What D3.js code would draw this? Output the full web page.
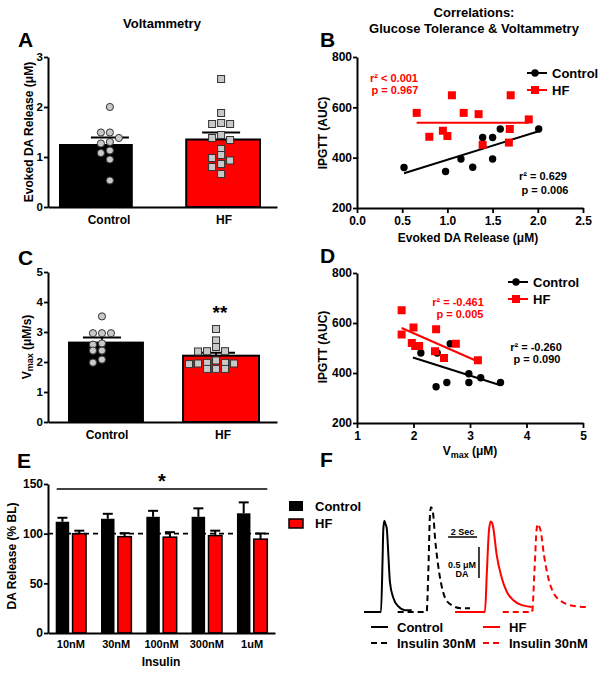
<!DOCTYPE html>
<html><head><meta charset="utf-8">
<script src="https://cdn.jsdelivr.net/npm/d3@7/dist/d3.min.js"></script>
<style>
body{margin:0;background:#fff;}
text{font-family:"Liberation Sans",Arial,Helvetica,sans-serif;font-weight:bold;fill:#000;}
</style></head><body>
<svg id="chart" width="604" height="674"></svg>
<script>
// ---------------- DATA ----------------
const groups = ["Control", "HF"];
// Panel A: evoked DA release (uM)
const releaseControl = [2.0, 1.49, 1.49, 1.38, 1.30, 1.27, 1.13, 1.08, 0.95, 0.53];
const releaseHF = [2.56, 1.88, 1.68, 1.66, 1.66, 1.44, 1.38, 1.34, 1.16, 1.04, 0.98, 0.93, 0.86, 0.80, 0.66];
const releaseMean = [1.26, 1.35];
const releaseSem = [0.13, 0.14];
const releaseTicks = [0, 1, 2, 3];
// Panel C: Vmax (uM/s)
const vmaxControl = [3.52, 2.96, 2.96, 2.96, 2.62, 2.58, 2.38, 2.38, 2.08, 1.98];
const vmaxHF = [3.10, 2.72, 2.50, 2.36, 2.36, 2.35, 2.05, 1.97, 1.95, 1.95, 1.93, 1.97, 1.77, 1.77, 1.77];
const vmaxMean = [2.68, 2.21];
const vmaxSem = [0.14, 0.10];
const vmaxTicks = [0, 1, 2, 3, 4, 5];
// Panel B: release vs IPGTT
const bControlX = [0.52, 0.98, 1.15, 1.28, 1.39, 1.50, 1.50, 1.585, 2.01];
const bControlY = [361, 345, 395, 362, 480, 480, 395, 514, 514];
const bHFX = [0.66, 0.80, 0.95, 1.00, 1.05, 1.18, 1.345, 1.39, 1.68, 1.69, 1.70, 1.90];
const bHFY = [578, 483, 507, 486, 648, 578, 573, 451, 460, 514, 648, 552];
const bFitControl = [[0.52, 338], [2.01, 505]];
const bFitHF = [[0.66, 539], [1.90, 539]];
const bXTicks = [0, 0.5, 1.0, 1.5, 2.0, 2.5];
// Panel D: Vmax vs IPGTT
const dControlX = [2.13, 2.42, 2.65, 2.40, 2.59, 2.98, 2.98, 3.19, 3.54];
const dControlY = [480, 480, 517, 345, 362, 362, 397, 381, 362];
const dHFX = [1.79, 1.79, 2.00, 1.97, 2.03, 2.10, 2.40, 2.38, 2.54, 2.75, 3.14];
const dHFY = [651, 554, 582, 520, 508, 508, 575, 487, 460, 517, 451];
const dFitControl = [[1.99, 462], [3.54, 351]];
const dFitHF = [[1.79, 580], [3.14, 446]];
const dXTicks = [1, 2, 3, 4, 5];
const ipgttTicks = [200, 400, 600, 800];
// Panel E: insulin dose response (% BL)
const doses = ["10nM", "30nM", "100nM", "300nM", "1uM"];
const doseControl = [112, 115, 117, 117, 120.5];
const doseControlSem = [4, 5, 6, 8.5, 11];
const doseHF = [100, 97, 96.5, 98, 94.5];
const doseHFSem = [3, 3.5, 5, 5, 5.7];
const doseTicks = [0, 50, 100, 150];
const baselinePct = 100;
const sigLevel = 145;
// Panel F: example traces [time s, DA uM]
const traceControl = [[0,0],[1.17,0],[1.28,0.84],[1.33,1.32],[1.40,1.47],[1.48,1.42],[1.57,1.35],[1.68,0.92],[1.79,0.48],[2.02,0.23],[2.37,0.09],[2.83,0.03],[3.29,0.03]];
const traceControlIns = [[2.32,0],[4.32,0],[4.43,0.6],[4.55,1.56],[4.62,1.69],[4.71,1.65],[4.78,1.56],[4.90,1.19],[5.08,0.81],[5.31,0.47],[5.59,0.23],[6.05,0.11],[6.74,0.06],[7.31,0.06]];
const traceHF = [[6.28,0],[8.34,0],[8.48,0.68],[8.62,1.32],[8.74,1.46],[8.83,1.44],[8.92,1.35],[9.15,0.92],[9.50,0.55],[9.84,0.33],[10.30,0.19],[10.88,0.11],[11.57,0.08]];
const traceHFIns = [[9.57,0],[11.59,0],[11.76,0.68],[11.90,1.32],[11.98,1.42],[12.07,1.39],[12.19,1.30],[12.41,0.92],[12.71,0.55],[13.17,0.27],[13.86,0.14],[14.67,0.09],[15.47,0.08]];

// ---------------- DRAWING ----------------
const RED = "#ff0000", GRAY = "#c8c8c8";
const svg = d3.select("#chart");

function styleAxis(g, fs) {
  g.selectAll("path.domain").attr("stroke", "#000").attr("stroke-width", 2);
  g.selectAll(".tick line").attr("stroke", "#000").attr("stroke-width", 1.8);
  g.selectAll(".tick text").attr("font-size", fs || 11).attr("font-weight", "bold")
    .attr("font-family", '"Liberation Sans",Arial,sans-serif').attr("fill", "#000");
}
function txt(x, y, s, o) {
  o = o || {};
  const t = svg.append("text").attr("x", x).attr("y", y).text(s)
    .attr("font-size", o.fs || 12).attr("text-anchor", o.anchor || "middle");
  if (o.fill) t.style("fill", o.fill);
  return t;
}
function letter(x, y, s) { txt(x, y, s, {fs: 21, anchor: "start"}); }

function swarm(vals, y, cx, step, minD) {
  const pts = vals.map(v => ({v: v, y: y(v)})).sort((a, b) => b.v - a.v);
  const placed = [];
  pts.forEach(p => {
    for (let k = 0; k < 30; k++) {
      const off = k === 0 ? 0 : (k % 2 ? -Math.ceil(k / 2) : Math.ceil(k / 2)) * step;
      const x = cx + off;
      if (!placed.some(q => Math.abs(q.x - x) < minD && Math.abs(q.y - p.y) < minD)) {
        p.x = x; placed.push(p); break;
      }
    }
  });
  return placed;
}

function barPanel(o) {
  const y = d3.scaleLinear().domain([0, o.ticks[o.ticks.length - 1]]).range([o.y0, o.y1]);
  const xb = d3.scaleBand().domain(groups).range(o.barRange).paddingInner(o.padInner);
  const ctr = (g, i) => xb(g) + xb.bandwidth() / 2 + o.shift[i];
  groups.forEach((g, i) => {
    svg.append("rect").attr("x", xb(g)).attr("width", xb.bandwidth())
      .attr("y", y(o.mean[i])).attr("height", y(0) - y(o.mean[i]))
      .attr("fill", i ? RED : "#000").attr("stroke", "#000").attr("stroke-width", i ? 2 : 0);
    const c = ctr(g, i), top = y(o.mean[i] + o.sem[i]);
    svg.append("line").attr("x1", c).attr("x2", c).attr("y1", y(o.mean[i])).attr("y2", top)
      .attr("stroke", "#000").attr("stroke-width", 2);
    svg.append("line").attr("x1", c - 19).attr("x2", c + 19).attr("y1", top).attr("y2", top)
      .attr("stroke", "#000").attr("stroke-width", 2);
    const pts = swarm(o.pts[i], y, c, 9, 6);
    if (i === 0) {
      svg.selectAll(null).data(pts).enter().append("circle")
        .attr("cx", d => d.x).attr("cy", d => d.y).attr("r", 3.6)
        .attr("fill", GRAY).attr("stroke", "#333").attr("stroke-width", 1);
    } else {
      svg.selectAll(null).data(pts).enter().append("rect")
        .attr("x", d => d.x - 3.5).attr("y", d => d.y - 3.5).attr("width", 7).attr("height", 7)
        .attr("fill", GRAY).attr("stroke", "#333").attr("stroke-width", 1);
    }
    txt(o.labelX[i], o.y0 + 17, g, {fs: 12});
  });
  svg.append("g").attr("transform", `translate(${o.x0},0)`)
    .call(d3.axisLeft(y).tickValues(o.ticks).tickFormat(d3.format("d")).tickSize(4).tickSizeOuter(0).tickPadding(1))
    .call(g => styleAxis(g, 11.5));
  svg.append("g").attr("transform", `translate(0,${o.y0})`)
    .call(d3.axisBottom(d3.scaleLinear().range([o.x0, o.x1])).tickValues([]).tickSizeOuter(0))
    .call(g => styleAxis(g, 11));
  return y;
}

function corrPanel(o) {
  const x = d3.scaleLinear().domain([o.xTicks[0], o.xTicks[o.xTicks.length - 1]]).range([o.x0, o.x1]);
  const y = d3.scaleLinear().domain([200, 800]).range([o.y0, o.y1]);
  const line = d3.line().x(d => x(d[0])).y(d => y(d[1]));
  svg.append("path").attr("d", line(o.fitC)).attr("stroke", "#000").attr("stroke-width", 2).attr("fill", "none");
  svg.append("path").attr("d", line(o.fitH)).attr("stroke", RED).attr("stroke-width", 2).attr("fill", "none");
  svg.selectAll(null).data(o.cx.map((v, i) => [v, o.cy[i]])).enter().append("circle")
    .attr("cx", d => x(d[0])).attr("cy", d => y(d[1])).attr("r", 3.7).attr("fill", "#000");
  svg.selectAll(null).data(o.hx.map((v, i) => [v, o.hy[i]])).enter().append("rect")
    .attr("x", d => x(d[0]) - 4).attr("y", d => y(d[1]) - 4).attr("width", 8).attr("height", 8).attr("fill", RED);
  svg.append("g").attr("transform", `translate(${o.x0},0)`)
    .call(d3.axisLeft(y).tickValues(ipgttTicks).tickSize(4).tickSizeOuter(0).tickPadding(1))
    .call(g => styleAxis(g, 12));
  svg.append("g").attr("transform", `translate(0,${o.y0})`)
    .call(d3.axisBottom(x).tickValues(o.xTicks).tickFormat(o.fmt).tickSize(5).tickSizeOuter(0).tickPadding(3))
    .call(g => styleAxis(g, 12));
  // legend
  const L = o.legend;
  svg.append("line").attr("x1", L[0]).attr("x2", L[0] + 20).attr("y1", L[1]).attr("y2", L[1]).attr("stroke", "#000").attr("stroke-width", 2);
  svg.append("circle").attr("cx", L[0] + 8).attr("cy", L[1]).attr("r", 3.7).attr("fill", "#000");
  txt(L[0] + 25, L[1] + 5, "Control", {fs: 13, anchor: "start"});
  svg.append("line").attr("x1", L[0]).attr("x2", L[0] + 20).attr("y1", L[1] + 17).attr("y2", L[1] + 17).attr("stroke", RED).attr("stroke-width", 2);
  svg.append("rect").attr("x", L[0] + 4).attr("y", L[1] + 13).attr("width", 8).attr("height", 8).attr("fill", RED);
  txt(L[0] + 25, L[1] + 22, "HF", {fs: 13, anchor: "start"});
}

function rotTitle(cx, cy, parts) {
  const t = svg.append("text").attr("transform", `translate(${cx},${cy}) rotate(-90)`)
    .attr("text-anchor", "middle").attr("dominant-baseline", "central").attr("font-size", 12);
  parts.forEach(p => t.append("tspan").text(p[0]).attr("font-size", p[1] || 12).attr("dy", p[2] || 0));
}

// Titles
txt(162, 28, "Voltammetry", {fs: 13});
txt(474, 17, "Correlations:", {fs: 13});
txt(474, 33, "Glucose Tolerance & Voltammetry", {fs: 13});

// Panel A
letter(18, 47, "A");
barPanel({x0: 48, x1: 277, y0: 207, y1: 57, ticks: releaseTicks, barRange: [59, 260], padInner: 0.42,
  mean: releaseMean, sem: releaseSem, pts: [releaseControl, releaseHF], shift: [14, -2], labelX: [109, 224]});
rotTitle(29, 132, [["Evoked DA Release (μM)"]]);

// Panel C
letter(18, 265, "C");
barPanel({x0: 48, x1: 277, y0: 422, y1: 272, ticks: vmaxTicks, barRange: [68, 259], padInner: 0.34,
  mean: vmaxMean, sem: vmaxSem, pts: [vmaxControl, vmaxHF], shift: [-4, -5], labelX: [107, 223]});
rotTitle(27, 347, [["V"], ["max", 9, 3], [" (μM/s)", 12, -3]]);
txt(220, 319, "**", {fs: 19});

// Panel B
letter(320, 47, "B");
corrPanel({x0: 357, x1: 583, y0: 208, y1: 57, xTicks: bXTicks, fmt: d3.format(".1f"),
  cx: bControlX, cy: bControlY, hx: bHFX, hy: bHFY, fitC: bFitControl, fitH: bFitHF, legend: [527, 73]});
rotTitle(323, 133, [["IPGTT (AUC)"]]);
txt(468, 242, "Evoked DA Release (μM)", {fs: 12});
txt(394, 82, "r² < 0.001", {fs: 11, fill: RED});
txt(395, 94, "p = 0.967", {fs: 11, fill: RED});
txt(543, 180, "r² = 0.629", {fs: 11});
txt(545, 194, "p = 0.006", {fs: 11});

// Panel D
letter(320, 263, "D");
corrPanel({x0: 357, x1: 583, y0: 423, y1: 273, xTicks: dXTicks, fmt: d3.format("d"),
  cx: dControlX, cy: dControlY, hx: dHFX, hy: dHFY, fitC: dFitControl, fitH: dFitHF, legend: [508, 282]});
rotTitle(323, 347, [["IPGTT (AUC)"]]);
const vt = txt(470, 455, "", {fs: 12});
vt.append("tspan").text("V");
vt.append("tspan").text("max").attr("font-size", 9).attr("dy", 3);
vt.append("tspan").text(" (μM)").attr("dy", -3);
txt(458, 306, "r² = -0.461", {fs: 11, fill: RED});
txt(460, 318, "p = 0.005", {fs: 11, fill: RED});
txt(536, 351, "r² = -0.260", {fs: 11});
txt(537, 363, "p = 0.090", {fs: 11});

// Panel E
letter(17, 468, "E");
(function () {
  const y = d3.scaleLinear().domain([0, 150]).range([633, 484]);
  const xb = d3.scaleBand().domain(doses).range([48, 275]).paddingInner(0.33).paddingOuter(0.17);
  const xi = d3.scaleBand().domain(groups).range([0, xb.bandwidth()]).paddingInner(0.2);
  const series = [[doseControl, doseControlSem], [doseHF, doseHFSem]];
  series.forEach((s, gi) => {
    doses.forEach((d, i) => {
      const bx = xb(d) + xi(groups[gi]), w = xi.bandwidth(), c = bx + w / 2;
      const top = y(s[0][i] + s[1][i]);
      svg.append("line").attr("x1", c).attr("x2", c).attr("y1", y(s[0][i])).attr("y2", top).attr("stroke", "#000").attr("stroke-width", 2);
      svg.append("line").attr("x1", c - 5).attr("x2", c + 5).attr("y1", top).attr("y2", top).attr("stroke", "#000").attr("stroke-width", 2);
      svg.append("rect").attr("x", bx).attr("width", w).attr("y", y(s[0][i])).attr("height", y(0) - y(s[0][i]))
        .attr("fill", gi ? RED : "#000").attr("stroke", "#000").attr("stroke-width", gi ? 1.5 : 0);
    });
  });
  svg.append("line").attr("x1", 48).attr("x2", 273).attr("y1", y(baselinePct)).attr("y2", y(baselinePct))
    .attr("stroke", "#000").attr("stroke-width", 1.6).attr("stroke-dasharray", "5,4");
  const sx0 = xb(doses[0]) + 1, sx1 = xb(doses[doses.length - 1]) + xb.bandwidth();
  svg.append("line").attr("x1", sx0).attr("x2", sx1).attr("y1", y(sigLevel)).attr("y2", y(sigLevel)).attr("stroke", "#000").attr("stroke-width", 1.6);
  txt((sx0 + sx1) / 2, 488, "*", {fs: 20});
  svg.append("g").attr("transform", "translate(48,0)")
    .call(d3.axisLeft(y).tickValues(doseTicks).tickSize(4).tickSizeOuter(0).tickPadding(1)).call(g => styleAxis(g, 12));
  svg.append("g").attr("transform", "translate(0,633)")
    .call(d3.axisBottom(d3.scaleLinear().range([48, 275])).tickValues([]).tickSizeOuter(0)).call(g => styleAxis(g, 11));
  doses.forEach(d => txt(xb(d) + xb.bandwidth() / 2, 648, d, {fs: 11}));
  txt(161, 666, "Insulin", {fs: 12});
  rotTitle(12, 556, [["DA Release (% BL)"]]);
  // legend
  svg.append("rect").attr("x", 289).attr("y", 501).attr("width", 14).attr("height", 10).attr("fill", "#000");
  svg.append("rect").attr("x", 289).attr("y", 519).attr("width", 14).attr("height", 9).attr("fill", RED).attr("stroke", "#000").attr("stroke-width", 1.5);
  txt(315, 511, "Control", {fs: 13, anchor: "start"});
  txt(315, 528, "HF", {fs: 13, anchor: "start"});
})();

// Panel F
letter(320, 467, "F");
(function () {
  const tx = d3.scaleLinear().domain([0, 16]).range([364, 596]);
  const cy = d3.scaleLinear().domain([0, 1.5]).range([612, 519]);
  const ln = d3.line().x(d => tx(d[0])).y(d => cy(d[1])).curve(d3.curveMonotoneX);
  const tr = [[traceControl, "#000", null], [traceControlIns, "#000", "6,4"], [traceHF, RED, null], [traceHFIns, RED, "6,4"]];
  tr.forEach(t => svg.append("path").attr("d", ln(t[0])).attr("fill", "none").attr("stroke", t[1])
    .attr("stroke-width", 2).attr("stroke-dasharray", t[2]));
  // scale bars
  svg.append("line").attr("x1", tx(5.8)).attr("x2", tx(7.8)).attr("y1", 537).attr("y2", 537).attr("stroke", "#000").attr("stroke-width", 1.5);
  svg.append("line").attr("x1", tx(7.93)).attr("x2", tx(7.93)).attr("y1", cy(0.55)).attr("y2", cy(1.05)).attr("stroke", "#000").attr("stroke-width", 1.5);
  txt(tx(6.8), 535, "2 Sec", {fs: 9});
  txt(476, 568, "0.5 μM", {fs: 9, anchor: "end"});
  txt(462, 577, "DA", {fs: 9});
  // legend
  const leg = [[371, 627, "#000", null, "Control"], [483, 627, RED, null, "HF"], [371, 643, "#000", "6,4", "Insulin 30nM"], [483, 643, RED, "6,4", "Insulin 30nM"]];
  leg.forEach(l => {
    svg.append("line").attr("x1", l[0]).attr("x2", l[0] + 17).attr("y1", l[1]).attr("y2", l[1])
      .attr("stroke", l[2]).attr("stroke-width", 2).attr("stroke-dasharray", l[3]);
    txt(l[0] + 26, l[1] + 5, l[4], {fs: 13, anchor: "start"});
  });
})();
</script>
</body></html>
